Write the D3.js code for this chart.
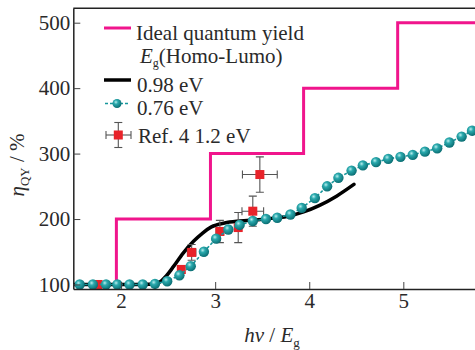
<!DOCTYPE html>
<html>
<head>
<meta charset="utf-8">
<script src="https://cdn.jsdelivr.net/npm/d3@7"></script>
<style>
    body { margin: 0; background: #fff; }
    text { font-family: "Liberation Serif", "Times New Roman", "DejaVu Serif", serif; fill: #2a2a2a; }
</style>
</head>
<body>
<div id="wrapper"></div>
<script>
const serif = '"Liberation Serif", "Times New Roman", "DejaVu Serif", serif'

// ideal quantum yield: step edges (hv/Eg) and levels (%)
const idealX = [1.49, 1.95, 2.95, 3.94, 4.94, 5.9]
const idealY = [100, 200, 300, 400, 500, 500]

// 0.98 eV curve
const blackX = [1.49, 2.0, 2.3, 2.4, 2.48, 2.56, 2.66, 2.77, 2.87, 2.96, 3.1, 3.26, 3.45, 3.6, 3.76, 3.94, 4.11, 4.29, 4.475]
const blackY = [100, 100, 100.5, 103, 113, 128, 148, 166, 179, 188, 194, 197, 199, 201, 204, 211, 221, 235, 253]

// 0.76 eV points
const tealX = [1.56, 1.70, 1.84, 1.96, 2.09, 2.23, 2.36, 2.49, 2.62, 2.74, 2.88, 3.01, 3.14, 3.26, 3.40, 3.54, 3.66, 3.80, 3.92, 4.06, 4.19, 4.31, 4.45, 4.57, 4.71, 4.84, 4.97, 5.10, 5.23, 5.36, 5.49, 5.62, 5.73]
const tealY = [100, 100, 100, 100, 100, 100, 101, 105, 114, 128, 150, 170, 184, 191, 197, 200, 202, 207, 217, 232, 250, 263, 274, 282, 287, 292, 295, 298, 303, 308, 317, 326, 335]

// Ref. 4 1.2 eV with error bars
const refX = [1.755, 2.64, 2.75, 3.05, 3.245, 3.40, 3.475]
const refY = [100, 123, 149, 181, 187, 212, 268]
const refXErr = [0.035, 0.03, 0.045, 0.04, 0.035, 0.115, 0.185]
const refYErr = [3, 6, 12, 17, 23, 23, 27]

const xTicks = [2, 3, 4, 5]
const yTicks = [100, 200, 300, 400, 500]

const pink = '#f0158c'
const teal = '#17979c'
const red = '#e8232a'

let dimensions = {
    width: 475,
    height: 350,
    margin: { top: 8.3, right: -40, bottom: 61, left: 73.3 }
}
dimensions.boundedWidth = dimensions.width - dimensions.margin.left - dimensions.margin.right
dimensions.boundedHeight = dimensions.height - dimensions.margin.top - dimensions.margin.bottom

const svg = d3.select('#wrapper').append('svg')
    .attr('width', dimensions.width)
    .attr('height', dimensions.height)

const defs = svg.append('defs')
const grad = defs.append('radialGradient')
    .attr('id', 'ball')
    .attr('cx', '38%').attr('cy', '35%').attr('r', '65%')
grad.append('stop').attr('offset', '0%').attr('stop-color', '#b9eeee')
grad.append('stop').attr('offset', '35%').attr('stop-color', '#2aa9ad')
grad.append('stop').attr('offset', '100%').attr('stop-color', '#0b6f74')

defs.append('clipPath').attr('id', 'clip')
    .append('rect')
    .attr('x', 0).attr('y', -2)
    .attr('width', dimensions.width - dimensions.margin.left)
    .attr('height', dimensions.boundedHeight + 2)

const xScale = d3.scaleLinear()
    .domain([1.492, 5.762])
    .range([0, dimensions.width - dimensions.margin.left])
const yScale = d3.scaleLinear()
    .domain([93.1, 522])
    .range([dimensions.boundedHeight, 0])

const bounds = svg.append('g')
    .attr('transform', `translate(${dimensions.margin.left}, ${dimensions.margin.top})`)

const plot = bounds.append('g').attr('clip-path', 'url(#clip)')

// ideal step line
const idealData = idealX.map((x, i) => [x, idealY[i]])
plot.append('path')
    .datum(idealData)
    .attr('d', d3.line()
        .x(d => xScale(d[0]))
        .y(d => yScale(d[1]))
        .curve(d3.curveStepAfter))
    .attr('fill', 'none')
    .attr('stroke', pink)
    .attr('stroke-width', 3)

// 0.98 eV
const blackData = blackX.map((x, i) => [x, blackY[i]])
plot.append('path')
    .datum(blackData)
    .attr('d', d3.line()
        .x(d => xScale(d[0]))
        .y(d => yScale(d[1]))
        .curve(d3.curveMonotoneX))
    .attr('fill', 'none')
    .attr('stroke', '#000')
    .attr('stroke-width', 3.5)
    .attr('stroke-linecap', 'round')

// Ref. 4 points
const refData = refX.map((x, i) => ({ x, y: refY[i], ex: refXErr[i], ey: refYErr[i] }))
const errs = plot.append('g')
    .attr('stroke', '#555')
    .attr('stroke-width', 1.1)
    .selectAll('g')
    .data(refData)
    .enter()
    .append('g')
errs.append('line')
    .attr('x1', d => xScale(d.x - d.ex)).attr('x2', d => xScale(d.x + d.ex))
    .attr('y1', d => yScale(d.y)).attr('y2', d => yScale(d.y))
errs.append('line')
    .attr('x1', d => xScale(d.x)).attr('x2', d => xScale(d.x))
    .attr('y1', d => yScale(d.y - d.ey)).attr('y2', d => yScale(d.y + d.ey))
errs.append('line')
    .attr('x1', d => xScale(d.x) - 4).attr('x2', d => xScale(d.x) + 4)
    .attr('y1', d => yScale(d.y + d.ey)).attr('y2', d => yScale(d.y + d.ey))
errs.append('line')
    .attr('x1', d => xScale(d.x) - 4).attr('x2', d => xScale(d.x) + 4)
    .attr('y1', d => yScale(d.y - d.ey)).attr('y2', d => yScale(d.y - d.ey))
errs.append('line')
    .attr('x1', d => xScale(d.x - d.ex)).attr('x2', d => xScale(d.x - d.ex))
    .attr('y1', d => yScale(d.y) - 4).attr('y2', d => yScale(d.y) + 4)
errs.append('line')
    .attr('x1', d => xScale(d.x + d.ex)).attr('x2', d => xScale(d.x + d.ex))
    .attr('y1', d => yScale(d.y) - 4).attr('y2', d => yScale(d.y) + 4)
plot.selectAll('.ref')
    .data(refData)
    .enter()
    .append('rect')
    .attr('class', 'ref')
    .attr('x', d => xScale(d.x) - 4.5)
    .attr('y', d => yScale(d.y) - 4.5)
    .attr('width', 9)
    .attr('height', 9)
    .attr('fill', red)

// 0.76 eV
const tealData = tealX.map((x, i) => [x, tealY[i]])
plot.append('path')
    .datum(tealData)
    .attr('d', d3.line()
        .x(d => xScale(d[0]))
        .y(d => yScale(d[1])))
    .attr('fill', 'none')
    .attr('stroke', teal)
    .attr('stroke-width', 1.6)
    .attr('stroke-dasharray', '3,2')
plot.selectAll('.ball')
    .data(tealData)
    .enter()
    .append('circle')
    .attr('class', 'ball')
    .attr('cx', d => xScale(d[0]))
    .attr('cy', d => yScale(d[1]))
    .attr('r', 5.2)
    .attr('fill', 'url(#ball)')

// axes
const xAxis = d3.axisBottom(xScale).tickValues(xTicks).tickFormat(d3.format('d'))
    .tickSize(-7).tickSizeOuter(0).tickPadding(4)
const yAxis = d3.axisLeft(yScale).tickValues(yTicks).tickFormat(d3.format('d'))
    .tickSize(-7).tickSizeOuter(0).tickPadding(3)

const xg = bounds.append('g')
    .attr('transform', `translate(0, ${dimensions.boundedHeight})`)
    .call(xAxis)
const yg = bounds.append('g').call(yAxis)

;[xg, yg].forEach(g => {
    g.attr('font-family', null).attr('font-size', null)
    g.select('.domain').attr('stroke', '#222').attr('stroke-width', 1.5)
    g.selectAll('.tick line').attr('stroke', '#444').attr('stroke-width', 1)
    g.selectAll('.tick text')
        .style('font-family', serif)
        .style('font-size', '21px')
        .attr('fill', '#2a2a2a')
})

// top frame
bounds.append('line')
    .attr('x1', 0).attr('x2', dimensions.width)
    .attr('y1', 0).attr('y2', 0)
    .attr('stroke', '#222')
    .attr('stroke-width', 1.5)

// axis titles
const xt = svg.append('text')
    .attr('x', 272)
    .attr('y', 342)
    .attr('text-anchor', 'middle')
    .style('font-size', '21px')
xt.append('tspan').style('font-style', 'italic').text('hν')
xt.append('tspan').text(' / ')
xt.append('tspan').style('font-style', 'italic').text('E')
xt.append('tspan').attr('dy', 5).style('font-size', '13px').text('g')

const yt = svg.append('text')
    .attr('transform', 'translate(24, 165) rotate(-90)')
    .attr('text-anchor', 'middle')
    .style('font-size', '21px')
yt.append('tspan').style('font-style', 'italic').text('η')
yt.append('tspan').attr('dy', 5).style('font-size', '13px').text('QY')
yt.append('tspan').attr('dy', -5).text(' / %')

// legend
const legend = svg.append('g')
legend.append('line')
    .attr('x1', 104).attr('x2', 131).attr('y1', 28).attr('y2', 28)
    .attr('stroke', pink).attr('stroke-width', 3)
legend.append('text').attr('x', 136).attr('y', 40)
    .style('font-size', '21px').text('Ideal quantum yield')
const l2 = legend.append('text').attr('x', 140).attr('y', 62.5).style('font-size', '21px')
l2.append('tspan').style('font-style', 'italic').text('E')
l2.append('tspan').attr('dy', 4).style('font-size', '12px').text('g')
l2.append('tspan').attr('dy', -4).text('(Homo-Lumo)')

legend.append('line')
    .attr('x1', 104).attr('x2', 131).attr('y1', 80).attr('y2', 80)
    .attr('stroke', '#000').attr('stroke-width', 3.5)
legend.append('text').attr('x', 137).attr('y', 91.5)
    .style('font-size', '21px').text('0.98 eV')

legend.append('line')
    .attr('x1', 105).attr('x2', 129).attr('y1', 103.5).attr('y2', 103.5)
    .attr('stroke', teal).attr('stroke-width', 1.6).attr('stroke-dasharray', '3,2')
legend.append('circle')
    .attr('cx', 117).attr('cy', 103.5).attr('r', 4.5)
    .attr('fill', 'url(#ball)')
legend.append('text').attr('x', 137).attr('y', 115)
    .style('font-size', '21px').text('0.76 eV')

const lr = legend.append('g').attr('stroke', '#555').attr('stroke-width', 1.1)
lr.append('line').attr('x1', 106).attr('x2', 131).attr('y1', 135).attr('y2', 135)
lr.append('line').attr('x1', 118.3).attr('x2', 118.3).attr('y1', 122.5).attr('y2', 147.5)
lr.append('line').attr('x1', 106).attr('x2', 106).attr('y1', 131).attr('y2', 139)
lr.append('line').attr('x1', 131).attr('x2', 131).attr('y1', 131).attr('y2', 139)
lr.append('line').attr('x1', 114.3).attr('x2', 122.3).attr('y1', 122.5).attr('y2', 122.5)
lr.append('line').attr('x1', 114.3).attr('x2', 122.3).attr('y1', 147.5).attr('y2', 147.5)
legend.append('rect')
    .attr('x', 113.8).attr('y', 130.5).attr('width', 9).attr('height', 9)
    .attr('fill', red)
legend.append('text').attr('x', 138).attr('y', 143.3)
    .style('font-size', '21px').text('Ref. 4 1.2 eV')
</script>
</body>
</html>
